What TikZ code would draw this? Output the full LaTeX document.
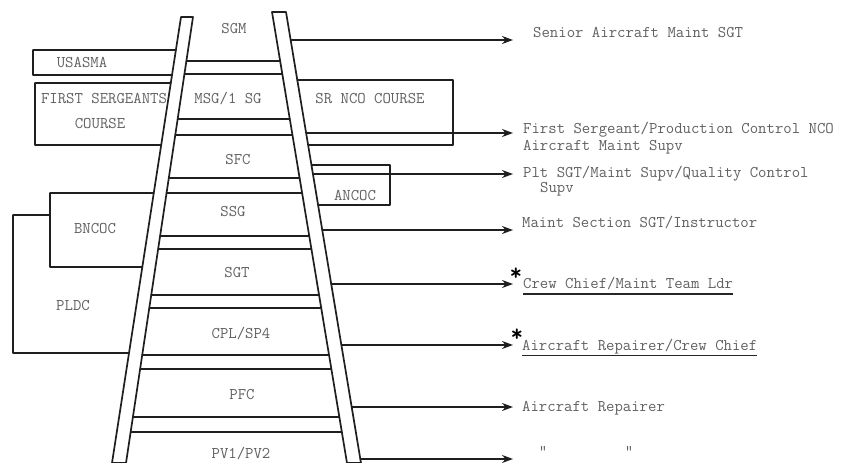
\documentclass[tikz,border=0pt]{standalone}
\usepackage{fontspec}
\usetikzlibrary{calc,arrows.meta}
\begin{document}
\begin{tikzpicture}[x=1pt,y=-1pt,
  ln/.style={line width=1.7pt, black!88, line cap=round, line join=round},
  arr/.style={ln, -{Stealth[length=11pt,width=8pt]}},
  lbl/.style={inner sep=0pt, text=black!62, font=\ttfamily\fontsize{16.3}{18}\selectfont},
  ast/.style={inner sep=0pt, text=black, font=\ttfamily\bfseries\fontsize{24}{24}\selectfont}]
\useasboundingbox (0,0) rectangle (847,463);
\fill[white] (0,0) rectangle (847,463);
% rails
\coordinate (LoT) at (181,17);
\coordinate (LiT) at (193,17);
\coordinate (LoB) at (112,463);
\coordinate (LiB) at (126,463);
\coordinate (RiT) at (272,12);
\coordinate (RoT) at (286,12);
\coordinate (RiB) at (347,463);
\coordinate (RoB) at (361,463);
\draw[ln] (LoT) -- (LiT) -- (LiB) -- (LoB) -- cycle;
\draw[ln] (RiT) -- (RoT) -- (RoB) -- (RiB) -- cycle;
% rungs
\foreach \y in {61,74,119,135,178,193,236,249,295,308,355,369,417,432}
  \draw[ln] ($(LiT)!{(\y-17)/446}!(LiB)$) -- ($(RiT)!{(\y-12)/451}!(RiB)$);
% left course boxes
\draw[ln] ($(LoT)!{33/446}!(LoB)$) -- (33,50) -- (33,75) -- ($(LoT)!{58/446}!(LoB)$);
\draw[ln] ($(LoT)!{66/446}!(LoB)$) -- (35,83) -- (35,145) -- ($(LoT)!{128/446}!(LoB)$);
\draw[ln] ($(LoT)!{176/446}!(LoB)$) -- (50,193) -- (50,267) -- ($(LoT)!{250/446}!(LoB)$);
\draw[ln] (50,215) -- (13,215) -- (13,353) -- ($(LoT)!{336/446}!(LoB)$);
% right course boxes
\draw[ln] ($(RoT)!{68/451}!(RoB)$) -- (453,80) -- (453,145) -- ($(RoT)!{133/451}!(RoB)$);
\draw[ln] ($(RoT)!{153/451}!(RoB)$) -- (390,165) -- (390,205) -- ($(RoT)!{193/451}!(RoB)$);
% arrows
\foreach \y [count=\i] in {40,133,174,230,284,345,407,459} {
  \coordinate (s\i) at ($(RoT)!{(\y-12)/451}!(RoB)$);
  \coordinate (e\i) at (513,\y);
  \draw[arr] (s\i) -- (e\i);
}
% ladder labels
\node[lbl,anchor=base] (sgm) at (234,34) {SGM};
\node[lbl,anchor=base] (msg) at (228,103) {MSG/1 SG};
\node[lbl,anchor=base] (sfc) at (238,164) {SFC};
\node[lbl,anchor=base] (ssg) at (233,216) {SSG};
\node[lbl,anchor=base] (sgt) at (237,277) {SGT};
\node[lbl,anchor=base] (cpl) at (241,338) {CPL/SP4};
\node[lbl,anchor=base] (pfc) at (242,399) {PFC};
\node[lbl,anchor=base] (pv) at (241,458) {PV1/PV2};
% course labels
\node[lbl,anchor=base] (usasma) at (82,67) {USASMA};
\node[lbl,anchor=base] (fsc1) at (104,103) {FIRST SERGEANTS};
\node[lbl,anchor=base] (fsc2) at (100,128) {COURSE};
\node[lbl,anchor=base] (srnco) at (370,103) {SR NCO COURSE};
\node[lbl,anchor=base] (ancoc) at (355,200) {ANCOC};
\node[lbl,anchor=base] (bncoc) at (95,233) {BNCOC};
\node[lbl,anchor=base] (pldc) at (73,310) {PLDC};
% job titles
\node[lbl,anchor=base west] (j1) at (533,37) {Senior Aircraft Maint SGT};
\node[lbl,anchor=base west] (j2a) at (523,133) {First Sergeant/Production Control NCO};
\node[lbl,anchor=base west] (j2b) at (523,150) {Aircraft Maint Supv};
\node[lbl,anchor=base west] (j3a) at (523,177) {Plt SGT/Maint Supv/Quality Control};
\node[lbl,anchor=base west] (j3b) at (540,192) {Supv};
\node[lbl,anchor=base west] (j4) at (522,227) {Maint Section SGT/Instructor};
\node[lbl,anchor=base west] (j5) at (523,288) {Crew Chief/Maint Team Ldr};
\node[lbl,anchor=base west] (j6) at (522,350) {Aircraft Repairer/Crew Chief};
\node[lbl,anchor=base west] (j7) at (522,411) {Aircraft Repairer};
\node[lbl,anchor=north] (d1) at (543,446) {"};
\node[lbl,anchor=north] (d2) at (629,446) {"};
% underlines and asterisks
\draw[line width=1.3pt, black!85] ($(j5.base west)+(0,6)$) -- ($(j5.base east)+(0,6)$);
\draw[line width=1.3pt, black!85] ($(j6.base west)+(0,5.5)$) -- ($(j6.base east)+(0,5.5)$);
\node[ast] (a1) at (516,274) {*};
\node[ast] (a2) at (517,335) {*};
\end{tikzpicture}
\end{document}
